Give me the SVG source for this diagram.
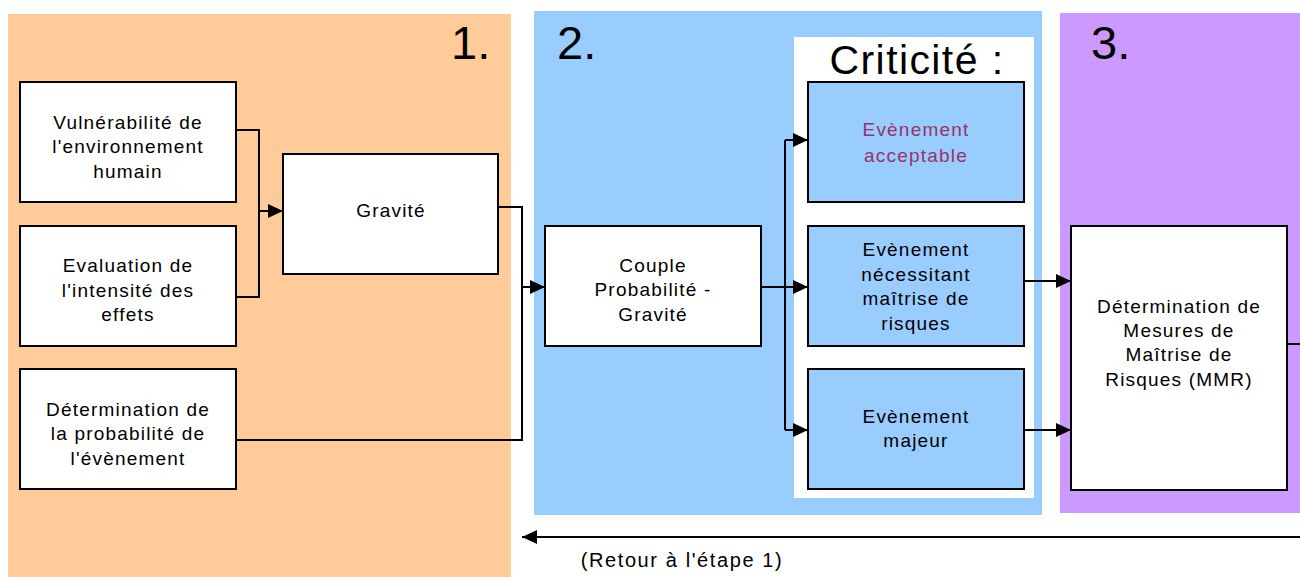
<svg xmlns="http://www.w3.org/2000/svg" width="1300" height="577" viewBox="0 0 1300 577">
<style>
.t{font-family:"Liberation Sans",Arial,sans-serif;font-size:19px;letter-spacing:1.2px;fill:#000;text-anchor:middle}
.big{font-family:"Liberation Sans",Arial,sans-serif;font-size:47px;fill:#000}
.box{fill:#fff;stroke:#000;stroke-width:2}
.bbox{fill:#99ccff;stroke:#000;stroke-width:2}
.c{fill:none;stroke:#000;stroke-width:2}
</style>
<defs>
<marker id="ah" viewBox="0 0 10 10" refX="10" refY="5" markerWidth="15" markerHeight="14" markerUnits="userSpaceOnUse" orient="auto" preserveAspectRatio="none">
<path d="M0,0 L10,5 L0,10 z" fill="#000"/>
</marker>
</defs>
<rect width="1300" height="577" fill="#fff"/>
<g id="panels">
<rect x="8" y="14" width="503" height="563" fill="#ffcc99"/>
<rect x="534" y="11" width="508" height="504" fill="#99ccff"/>
<rect x="1060" y="13" width="240" height="500" fill="#cc99ff"/>
<rect x="794" y="37" width="240" height="461" fill="#fff"/>
<text class="big" x="451" y="59">1.</text>
<text class="big" x="557" y="59">2.</text>
<text class="big" x="1091" y="59">3.</text>
<text x="917" y="74" style="font-family:'Liberation Sans',Arial,sans-serif;font-size:41px;letter-spacing:1.4px;text-anchor:middle">Criticité :</text>
</g>
<g id="connectors">
<path class="c" d="M236,130 H259 V297 H236"/>
<path class="c" d="M259,211 H283" marker-end="url(#ah)"/>
<path class="c" d="M498,207 H522 V440 H236"/>
<path class="c" d="M522,287 H545" marker-end="url(#ah)"/>
<path class="c" d="M761,287 H808" marker-end="url(#ah)"/>
<path class="c" d="M785,140 V430"/>
<path class="c" d="M785,140 H808" marker-end="url(#ah)"/>
<path class="c" d="M785,430 H808" marker-end="url(#ah)"/>
<path class="c" d="M1024,281 H1071" marker-end="url(#ah)"/>
<path class="c" d="M1024,430 H1071" marker-end="url(#ah)"/>
<path class="c" d="M1287,344 H1300"/>
<path class="c" d="M1300,537 H522" marker-end="url(#ah)"/>
<text class="t" x="682" y="567" style="font-size:20px;letter-spacing:1.6px">(Retour à l'étape 1)</text>
</g>
<g id="n-vulnerabilite">
<rect class="box" x="20" y="82" width="216" height="120"/>
<text class="t" x="128" y="129">Vulnérabilité de</text>
<text class="t" x="128" y="153">l'environnement</text>
<text class="t" x="128" y="178">humain</text>
</g>
<g id="n-evaluation">
<rect class="box" x="20" y="226" width="216" height="120"/>
<text class="t" x="128" y="272">Evaluation de</text>
<text class="t" x="128" y="297">l'intensité des</text>
<text class="t" x="128" y="321">effets</text>
</g>
<g id="n-probabilite">
<rect class="box" x="20" y="369" width="216" height="120"/>
<text class="t" x="128" y="416">Détermination de</text>
<text class="t" x="128" y="440">la probabilité de</text>
<text class="t" x="128" y="465">l'évènement</text>
</g>
<g id="n-gravite">
<rect class="box" x="283" y="154" width="215" height="120"/>
<text class="t" x="391" y="217">Gravité</text>
</g>
<g id="n-couple">
<rect class="box" x="545" y="226" width="216" height="120"/>
<text class="t" x="653" y="272">Couple</text>
<text class="t" x="653" y="296">Probabilité -</text>
<text class="t" x="653" y="321">Gravité</text>
</g>
<g id="n-acceptable">
<rect class="bbox" x="808" y="82" width="216" height="120"/>
<text class="t" x="916" y="136" style="fill:#993366">Evènement</text>
<text class="t" x="916" y="162" style="fill:#993366">acceptable</text>
</g>
<g id="n-necessitant">
<rect class="bbox" x="808" y="226" width="216" height="120"/>
<text class="t" x="916" y="256">Evènement</text>
<text class="t" x="916" y="281">nécessitant</text>
<text class="t" x="916" y="305">maîtrise de</text>
<text class="t" x="916" y="330">risques</text>
</g>
<g id="n-majeur">
<rect class="bbox" x="808" y="369" width="216" height="120"/>
<text class="t" x="916" y="423">Evènement</text>
<text class="t" x="916" y="447">majeur</text>
</g>
<g id="n-mmr">
<rect class="box" x="1071" y="226" width="216" height="264"/>
<text class="t" x="1179" y="313">Détermination de</text>
<text class="t" x="1179" y="337">Mesures de</text>
<text class="t" x="1179" y="361">Maîtrise de</text>
<text class="t" x="1179" y="386">Risques (MMR)</text>
</g>
</svg>
